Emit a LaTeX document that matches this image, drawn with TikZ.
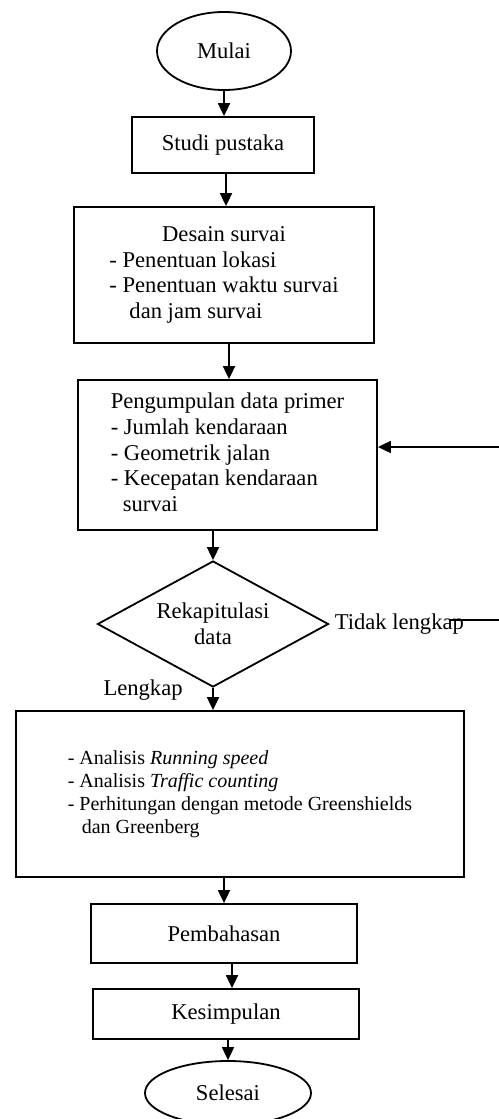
\documentclass[tikz,border=0pt]{standalone}
\usepackage{fontspec}
\setmainfont{Liberation Serif}
\usetikzlibrary{
    shapes.geometric,
    arrows.meta,
    positioning,
}
\newcommand{\mainsz}{\fontsize{11.3}{12.8}\selectfont}
\newcommand{\listsz}{\fontsize{10}{11.5}\selectfont}

\begin{document}
\begin{tikzpicture}[
    x=1pt, y=-1pt,
    box/.style  = {rectangle, draw, line width=0.9pt, inner sep=2pt,
                   font=\mainsz},
    term/.style = {ellipse, draw, line width=0.9pt, inner sep=0pt,
                   font=\mainsz},
    cond/.style = {diamond, draw, line width=0.9pt, inner sep=0pt,
                   aspect=1.83, align=center, font=\mainsz},
    lbl/.style  = {font=\mainsz, inner sep=0pt},
    arr/.style  = {-{Triangle[length=6.5pt,width=6pt]}, line width=0.9pt},
]
\useasboundingbox (0,0) rectangle (249,559.5);

%% ── Main column ──────────────────────────────────────────────────────────────
\node[term, minimum width=67pt, minimum height=39pt] (mulai) at (112, 25.5) {Mulai};
\node[box, minimum width=91pt, minimum height=28pt] (studi) at (111.5, 72.5) {Studi pustaka};
\node[box, minimum width=150pt, minimum height=68pt] (desain) at (112, 137.5)
    {\begin{tabular}{@{}l@{}}
     \multicolumn{1}{@{}c@{}}{Desain survai}\\
     - Penentuan lokasi\\
     - Penentuan waktu survai\\
     \hspace*{10pt}dan jam survai
     \end{tabular}};
\node[box, minimum width=149.5pt, minimum height=75pt] (kumpul) at (113.75, 227.5)
    {\begin{tabular}{@{}l@{}}
     \multicolumn{1}{@{}c@{}}{Pengumpulan data primer}\\
     - Jumlah kendaraan\\
     - Geometrik jalan\\
     - Kecepatan kendaraan\\
     \hspace*{6pt}survai
     \end{tabular}};
\node[cond, minimum width=115.5pt, minimum height=63pt] (rekap) at (106.5, 312)
    {Rekapitulasi\\data};
\node[box, minimum width=224pt, minimum height=83pt, font=\listsz] (analisis) at (120, 397)
    {\begin{tabular}{@{}l@{}}
     - Analisis \textit{Running speed}\\
     - Analisis \textit{Traffic counting}\\
     - Perhitungan dengan metode Greenshields\\
     \hspace*{7pt}dan Greenberg
     \end{tabular}};
\node[box, minimum width=133pt, minimum height=29.5pt] (bahas) at (112, 466.75) {Pembahasan};
\node[box, minimum width=133pt, minimum height=25pt] (simpul) at (113, 507) {Kesimpulan};
\node[term, minimum width=83pt, minimum height=32pt] (selesai) at (114, 546.5) {Selesai};

%% ── Decision labels ──────────────────────────────────────────────────────────
\node[lbl, anchor=west, right=2.5pt of rekap.east] (tidak) {Tidak lengkap};
\node[lbl, anchor=east, left=15pt of rekap.south, yshift=-1pt] (lengkap) {Lengkap};

%% ── Flow arrows (straight down) ─────────────────────────────────────────────
\draw[arr] (mulai.south) -- (mulai.south |- studi.north);
\draw[arr] ([xshift=1.5pt]studi.south) -- ([xshift=1.5pt]studi.south |- desain.north);
\draw[arr] ([xshift=2.5pt]desain.south) -- ([xshift=2.5pt]desain.south |- kumpul.north);
\draw[arr] (kumpul.south -| rekap.north) -- (rekap.north);
\draw[arr] (rekap.south) -- (rekap.south |- analisis.north);
\draw[arr] (bahas.north |- analisis.south) -- (bahas.north);
\draw[arr] ([xshift=4pt]bahas.south) -- ([xshift=4pt]bahas.south |- simpul.north);
\draw[arr] ([xshift=1pt]simpul.south) -- ([xshift=1pt]simpul.south |- selesai.north);

%% ── Feedback loop (right side, runs off the page) ───────────────────────────
\coordinate (fbx) at (253, 0);
\draw[arr] ([xshift=-7pt, yshift=2pt]tidak.east) -- ([yshift=2pt]tidak.east -| fbx)
    |- ([yshift=4pt]kumpul.east);

\end{tikzpicture}
\end{document}
